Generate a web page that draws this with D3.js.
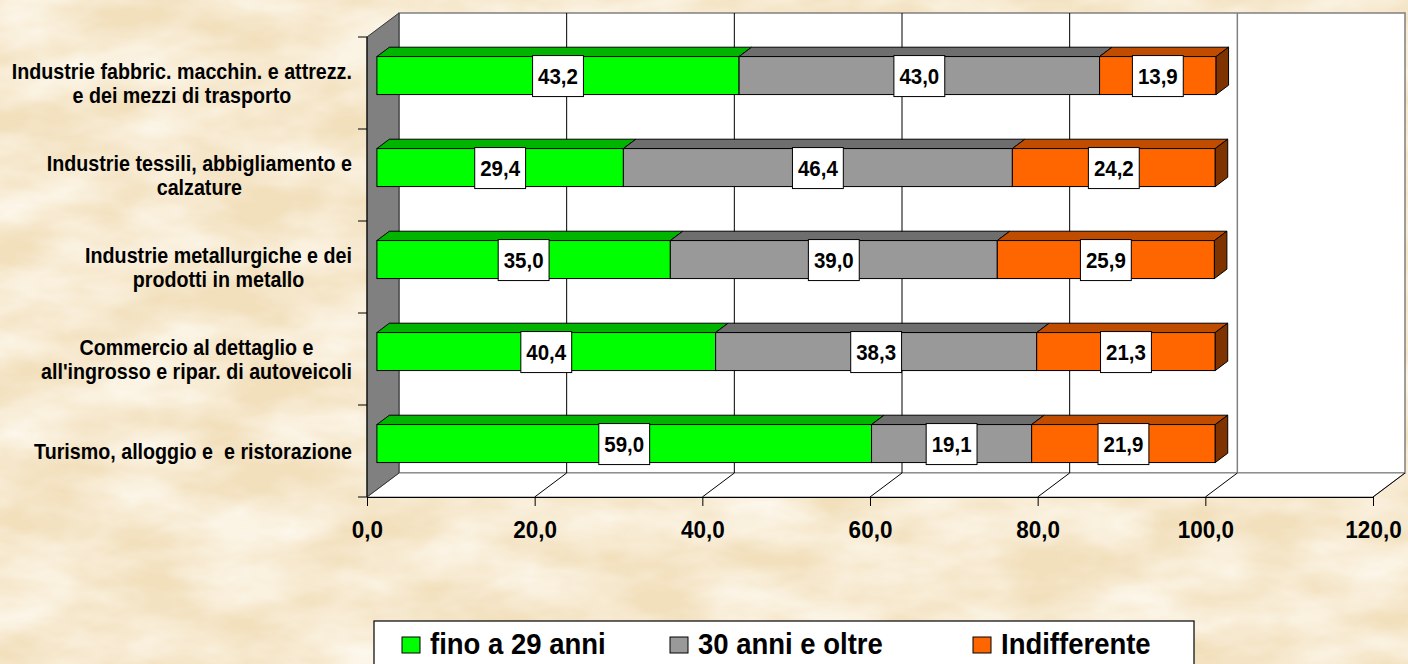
<!DOCTYPE html>
<html>
<head>
<meta charset="utf-8">
<script src="https://cdn.jsdelivr.net/npm/d3@7"></script>
<style>
  html, body { margin: 0; padding: 0; background: #f6e8cb; }
  svg { display: block; }
  text { font-family: "Liberation Sans", Arial, Helvetica, sans-serif; font-weight: bold; fill: #000; }
</style>
</head>
<body>
<svg id="chart" width="1408" height="664"></svg>
<script>
// Sectors (line breaks mark wrapped label lines)
const categories = [
  "Industrie fabbric. macchin. e attrezz.\ne dei mezzi di trasporto",
  "Industrie tessili, abbigliamento e\ncalzature",
  "Industrie metallurgiche e dei\nprodotti in metallo",
  "Commercio al dettaglio e\nall'ingrosso e ripar. di autoveicoli",
  "Turismo, alloggio e  e ristorazione"
];
// Percentages per preferred age group
const fino29 = [43.2, 29.4, 35.0, 40.4, 59.0];
const oltre30 = [43.0, 46.4, 39.0, 38.3, 19.1];
const indifferente = [13.9, 24.2, 25.9, 21.3, 21.9];
const seriesNames = ["fino a 29 anni", "30 anni e oltre", "Indifferente"];
const xTicks = [0, 20, 40, 60, 80, 100, 120];

const seriesValues = [fino29, oltre30, indifferente];
const faceColors = ["#00ff00", "#999999", "#ff6600"];
const topColors  = ["#00b400", "#6e6e6e", "#c04c00"];
const sideColors = ["#008000", "#4d4d4d", "#7f3300"];

const svg = d3.select("#chart");
const W = 1408, H = 664;
const STRETCH = 1.1; // glyphs are a little taller than wide

// place text at (x, y) baseline with a slight vertical stretch
function placeText(t, x0, y0) {
  return t.attr("x", 0).attr("y", 0).attr("dy", null)
    .attr("transform", `translate(${x0},${y0}) scale(1,${STRETCH})`);
}

// Parchment background
const defs = svg.append("defs");
const f = defs.append("filter").attr("id", "parch").attr("x", 0).attr("y", 0).attr("width", 1).attr("height", 1);
f.append("feTurbulence").attr("type", "fractalNoise").attr("baseFrequency", "0.01 0.022")
  .attr("numOctaves", 4).attr("seed", 11).attr("result", "n");
f.append("feColorMatrix").attr("in", "n").attr("type", "matrix")
  .attr("values", "0 0 0 0 1  0 0 0 0 0.98  0 0 0 0 0.93  1.3 0 0 0 -0.3");
svg.append("rect").attr("width", W).attr("height", H).attr("fill", "#f2dfbb");
svg.append("rect").attr("width", W).attr("height", H).attr("filter", "url(#parch)");

// Scales on the front plane, plus a depth offset for the 3D look
const x = d3.scaleLinear().domain([0, 120]).range([367, 1373]);
const y = d3.scaleBand().domain(categories).range([37, 497])
  .paddingInner(0.587).paddingOuter(0.2935);
const DX = 32, DY = -24;           // full depth offset
const z0 = 0.31, z1 = 0.70;        // bar depth range
const px = (v, z) => x(v) + DX * z;
const py = (yy, z) => yy + DY * z;
const yTop = y.range()[0], yBot = y.range()[1];

const pts = a => a.map(p => p.join(",")).join(" ");

// Back wall
const wall = svg.append("g");
wall.append("polygon")
  .attr("points", pts([[px(0,1), py(yTop,1)], [px(120,1), py(yTop,1)], [px(120,1), py(yBot,1)], [px(0,1), py(yBot,1)]]))
  .attr("fill", "#ffffff").attr("stroke", "#808080").attr("stroke-width", 1.5);
// Floor
wall.append("polygon")
  .attr("points", pts([[px(0,0), yBot], [px(0,1), py(yBot,1)], [px(120,1), py(yBot,1)], [px(120,0), yBot]]))
  .attr("fill", "#ffffff").attr("stroke", "#808080").attr("stroke-width", 1);
// Side wall
wall.append("polygon")
  .attr("points", pts([[px(0,0), yTop], [px(0,1), py(yTop,1)], [px(0,1), py(yBot,1)], [px(0,0), yBot]]))
  .attr("fill", "#808080").attr("stroke", "#333").attr("stroke-width", 1);

// Gridlines on back wall and floor
xTicks.filter(t => t > 0 && t < 120).forEach(t => {
  wall.append("line")
    .attr("x1", px(t,1)).attr("x2", px(t,1)).attr("y1", py(yTop,1)).attr("y2", py(yBot,1))
    .attr("stroke", t === 100 ? "#808080" : "#000").attr("stroke-width", t === 100 ? 1.5 : 1);
});
xTicks.filter(t => t > 0).forEach(t => {
  wall.append("line")
    .attr("x1", px(t,0)).attr("y1", yBot).attr("x2", px(t,1)).attr("y2", py(yBot,1))
    .attr("stroke", "#000").attr("stroke-width", 1);
});

// Value axis (front edge)
const xAxis = d3.axisBottom(x).tickValues(xTicks).tickSize(9)
  .tickFormat(d => d3.format(".1f")(d).replace(".", ","));
const gx = svg.append("g").attr("transform", `translate(0,${yBot})`).call(xAxis);
gx.select(".domain").attr("stroke", "#000").attr("stroke-width", 1);
gx.selectAll(".tick line").attr("stroke", "#000");
gx.selectAll(".tick text").each(function () {
  placeText(d3.select(this), 0, 41)
    .attr("font-size", 22.5).attr("font-family", "Liberation Sans, Arial, sans-serif")
    .attr("font-weight", "bold").attr("fill", "#000");
});

// Category axis
const gy = svg.append("g");
gy.append("line").attr("x1", x(0)).attr("x2", x(0)).attr("y1", yTop).attr("y2", yBot).attr("stroke", "#000");
const step = y.step();
d3.range(categories.length + 1).forEach(i => {
  const yy = yTop + i * step;
  gy.append("line").attr("x1", x(0) - 9).attr("x2", x(0)).attr("y1", yy).attr("y2", yy).attr("stroke", "#000");
});

// Category labels: lines centred within a right-aligned block
const labelRight = 352, lineH = 24.5;
categories.forEach(c => {
  const lines = c.split("\n");
  const cy = y(c) + y.bandwidth() / 2;
  const g = svg.append("g");
  const ts = lines.map(ln => g.append("text")
    .attr("font-size", 19.7).attr("text-anchor", "middle").style("white-space", "pre").text(ln));
  const maxW = d3.max(ts, t => t.node().getComputedTextLength());
  ts.forEach((t, i) => placeText(t, labelRight - maxW / 2, cy + 8 + (i - (lines.length - 1) / 2) * lineH));
});

// Stacked 3D bars
const bars = svg.append("g");
categories.forEach((c, i) => {
  const yf0 = py(y(c), z0), yf1 = yf0 + y.bandwidth();
  const dyd = DY * (z1 - z0);
  let acc = 0;
  const segs = seriesValues.map((vals, s) => {
    const seg = { s, v0: acc, v1: acc + vals[i], val: vals[i] };
    acc += vals[i];
    return seg;
  });
  segs.forEach(sg => {
    // top face
    bars.append("polygon")
      .attr("points", pts([[px(sg.v0,z0), yf0], [px(sg.v0,z1), yf0 + dyd], [px(sg.v1,z1), yf0 + dyd], [px(sg.v1,z0), yf0]]))
      .attr("fill", topColors[sg.s]).attr("stroke", "#000").attr("stroke-width", 1).attr("stroke-linejoin", "round");
    // front face
    bars.append("rect")
      .attr("x", px(sg.v0,z0)).attr("y", yf0).attr("width", px(sg.v1,z0) - px(sg.v0,z0)).attr("height", y.bandwidth())
      .attr("fill", faceColors[sg.s]).attr("stroke", "#000").attr("stroke-width", 1);
  });
  const last = segs[segs.length - 1];
  bars.append("polygon")
    .attr("points", pts([[px(last.v1,z0), yf0], [px(last.v1,z1), yf0 + dyd], [px(last.v1,z1), yf1 + dyd], [px(last.v1,z0), yf1]]))
    .attr("fill", sideColors[last.s]).attr("stroke", "#000").attr("stroke-width", 1).attr("stroke-linejoin", "round");

  // value labels in white boxes
  segs.forEach(sg => {
    const cx = (px(sg.v0,z0) + px(sg.v1,z0)) / 2, cyy = (yf0 + yf1) / 2 + 0.5;
    const g = bars.append("g");
    const box = g.append("rect").attr("fill", "#fff").attr("stroke", "#000").attr("stroke-width", 1);
    const t = g.append("text").attr("text-anchor", "middle")
      .attr("font-size", 20.5).text(d3.format(".1f")(sg.val).replace(".", ","));
    placeText(t, cx, cyy + 8);
    const tw = t.node().getComputedTextLength();
    box.attr("x", cx - tw / 2 - 5.5).attr("y", cyy - 20.5).attr("width", tw + 11).attr("height", 41);
  });
});

// Legend
const lg = svg.append("g");
lg.append("rect").attr("x", 374).attr("y", 621).attr("width", 820).attr("height", 60)
  .attr("fill", "#fff").attr("stroke", "#000").attr("stroke-width", 1.2);
const legendX = [402, 670, 973];
seriesNames.forEach((n, s) => {
  lg.append("rect").attr("x", legendX[s]).attr("y", 637).attr("width", 18).attr("height", 16)
    .attr("fill", faceColors[s]).attr("stroke", "#000").attr("stroke-width", 1);
  placeText(lg.append("text").attr("font-size", 27.5).text(n), legendX[s] + 28, 654);
});
</script>
</body>
</html>
